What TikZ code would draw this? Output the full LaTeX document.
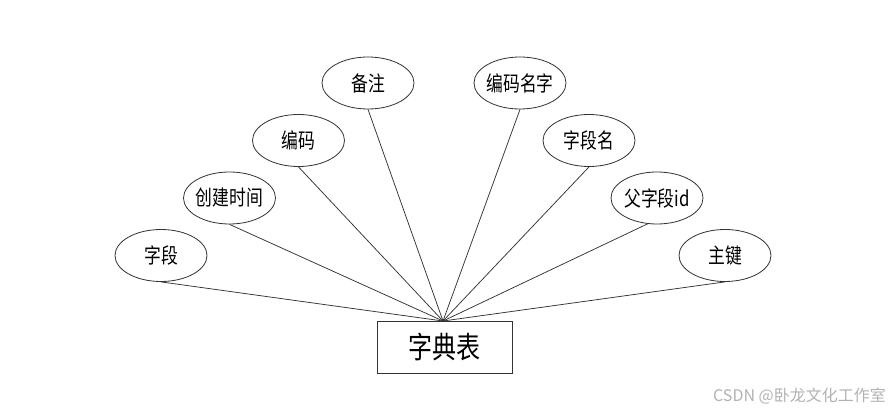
\documentclass[tikz,border=0pt]{standalone}
\usepackage{fontspec}
\usepackage{graphicx}
\setmainfont{Noto Sans CJK SC}
\usetikzlibrary{shapes.geometric}
\newcommand{\narrowtext}[1]{\scalebox{0.8}[1]{#1}}
\begin{document}
\begin{tikzpicture}[x=1pt,y=-1pt,
  attr/.style={ellipse, draw=black!80, line width=0.8pt, minimum width=92pt, minimum height=52pt, inner xsep=-10pt, inner ysep=0pt, font=\fontsize{21}{21}\selectfont},
  ent/.style={rectangle, draw=black!80, line width=0.8pt, minimum width=135pt, minimum height=52pt, inner sep=0pt, font=\fontsize{30}{30}\selectfont},
  link/.style={draw=black!80, line width=0.75pt},
  wmark/.style={text=black!30, font=\fontsize{16}{16}\selectfont, inner sep=0pt}]
\useasboundingbox (0,0) rectangle (891,411);
\node[ent] (e) at (444.5,347) {\narrowtext{字典表}};
\node[attr] (a1) at (161,255.5) {\narrowtext{字段}};
\node[attr] (a2) at (229.5,198) {\narrowtext{创建时间}};
\node[attr] (a3) at (298.5,140.5) {\narrowtext{编码}};
\node[attr] (a4) at (368,83) {\narrowtext{备注}};
\node[attr] (a5) at (520,83) {\narrowtext{编码名字}};
\node[attr] (a6) at (589,140.5) {\narrowtext{字段名}};
\node[attr] (a7) at (657,198) {\narrowtext{父字段id}};
\node[attr] (a8) at (725,255.5) {\narrowtext{主键}};
\coordinate (hub) at (443,321);
\foreach \i in {1,2,3,4,5,6,8} {\draw[link] (a\i.south) -- (hub);}
\draw[link] (a7.250) -- (hub);
\node[wmark, anchor=east] (wm) at (886,396) {CSDN @卧龙文化工作室};
\end{tikzpicture}
\end{document}
